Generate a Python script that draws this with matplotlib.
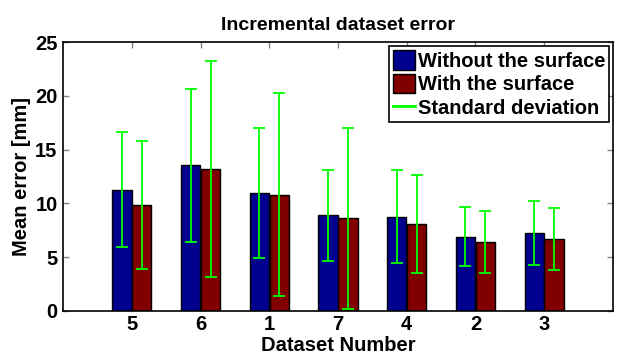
import numpy as np
import matplotlib
matplotlib.use('Agg')
import matplotlib.pyplot as plt
from matplotlib.patches import Patch
from matplotlib.lines import Line2D

# ── DATA ──────────────────────────────────────────────────────────────────────
datasets      = ["5", "6", "1", "7", "4", "2", "3"]
mean_without  = [11.27, 13.53, 10.96, 8.88, 8.75, 6.92, 7.29]
std_without   = [5.34, 7.14, 6.01, 4.19, 4.32, 2.78, 2.97]
mean_with     = [9.87, 13.19, 10.83, 8.63, 8.07, 6.42, 6.70]
std_with      = [5.97, 10.05, 9.47, 8.43, 4.53, 2.89, 2.87]

plt.rcParams['font.family'] = ['Liberation Sans', 'DejaVu Sans']
plt.rcParams['font.weight'] = 'bold'

fig = plt.figure(figsize=(6.19, 3.54), dpi=100)
ax = fig.add_axes([0.102, 0.1215, 0.888, 0.7595])

x = np.arange(1, len(datasets) + 1)
w = 0.28
off = 0.145
blue = '#00008F'
red = '#800000'
green = '#00FF00'

ax.bar(x - off, mean_without, w, color=blue, edgecolor='black', lw=1.0, zorder=2)
ax.bar(x + off, mean_with, w, color=red, edgecolor='black', lw=1.0, zorder=2)
ax.errorbar(x - off, mean_without, yerr=std_without, fmt='none', ecolor=green,
            elinewidth=1.3, capsize=4, capthick=1.3, zorder=3)
ax.errorbar(x + off, mean_with, yerr=std_with, fmt='none', ecolor=green,
            elinewidth=1.3, capsize=4, capthick=1.3, zorder=3)

ax.set_xlim(0, 8)
ax.set_ylim(0, 25)
ax.set_xticks(x)
ax.set_xticklabels(datasets)
ax.set_yticks([0, 5, 10, 15, 20, 25])
ax.tick_params(direction='in', length=4, color='#808080', width=1,
               top=True, right=True, labelsize=14.5, pad=4)
ax.tick_params(axis='x', pad=3)
for lab in ax.get_xticklabels() + ax.get_yticklabels():
    lab.set_fontweight('bold')
for s in ax.spines.values():
    s.set_linewidth(1.2)

ax.set_title("Incremental dataset error", fontsize=14, fontweight='bold', pad=9)
ax.set_xlabel("Dataset Number", fontsize=14.5, fontweight='bold')
ax.xaxis.set_label_coords(0.5, -0.093, transform=ax.transAxes)
ax.xaxis.label.set_va('top')
ax.set_ylabel("Mean error [mm]", fontsize=14.5, fontweight='bold', labelpad=3)

handles = [Patch(facecolor=blue, edgecolor='black'),
           Patch(facecolor=red, edgecolor='black'),
           Line2D([0], [0], color=green, lw=2)]
leg = ax.legend(handles, ["Without the surface", "With the surface", "Standard deviation"],
                loc='upper right', bbox_to_anchor=(0.9935, 0.985),
                prop={'weight': 'bold', 'size': 14.5},
                handlelength=1.1, handleheight=1.1, handletextpad=0.15,
                borderpad=0.2, labelspacing=0.15, borderaxespad=0,
                fancybox=False, framealpha=1, edgecolor='black')
leg.get_frame().set_linewidth(1.2)

plt.savefig("out.png", dpi=100)
